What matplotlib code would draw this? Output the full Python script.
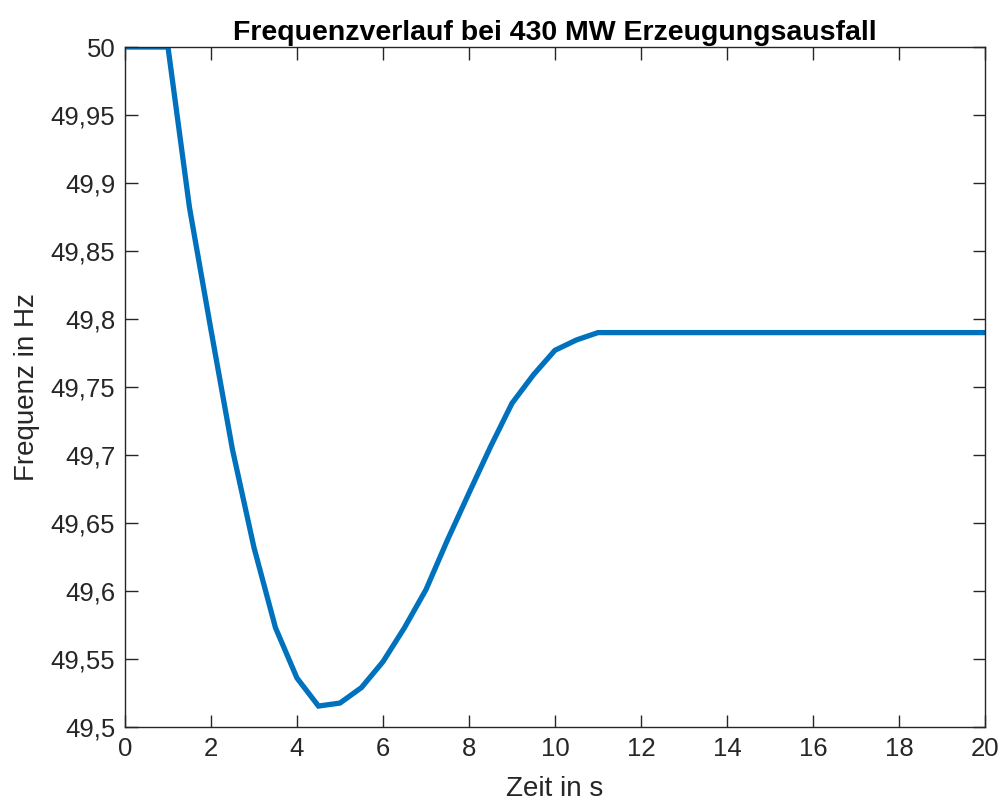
import matplotlib
matplotlib.use("Agg")
import matplotlib.pyplot as plt
from matplotlib.ticker import FuncFormatter

# time in s, frequency in Hz
zeit = [0, 0.5, 1, 1.5, 2, 2.5, 3, 3.5, 4, 4.5, 5, 5.5, 6, 6.5, 7, 7.5, 8,
        8.5, 9, 9.5, 10, 10.5, 11, 20]
frequenz = [50, 50, 50, 49.882, 49.792, 49.704, 49.632, 49.573, 49.536,
            49.5154, 49.5176, 49.529, 49.548, 49.573, 49.601, 49.6375,
            49.672, 49.706, 49.738, 49.759, 49.777, 49.7846, 49.79, 49.79]

plt.rcParams['font.family'] = ['Liberation Sans', 'DejaVu Sans']

fig = plt.figure(figsize=(10.03, 8.05), dpi=100)
ax = fig.add_axes([0.1246, 0.0969, 0.8574, 0.8447])

ax.plot(zeit, frequenz, color='#0072BD', linewidth=3.8, solid_joinstyle='miter')

ax.set_xlim(0, 20)
ax.set_ylim(49.5, 50)
ax.set_xticks(range(0, 21, 2))
ax.set_yticks([49.5 + 0.05 * i for i in range(11)])

def komma(v, pos):
    s = ('%.2f' % v).rstrip('0').rstrip('.')
    return s.replace('.', ',')

ax.yaxis.set_major_formatter(FuncFormatter(komma))

for sp in ax.spines.values():
    sp.set_color('#262626')
    sp.set_linewidth(1.0)
ax.tick_params(direction='in', length=9, width=1.0, colors='#262626',
               labelsize=18.5, top=True, right=True, pad=7)
for lbl in ax.get_xticklabels() + ax.get_yticklabels():
    lbl.set_color('#262626')

ax.set_xlabel('Zeit in s', fontsize=20, color='#262626', labelpad=11)
ax.set_ylabel('Frequenz in Hz', fontsize=20, color='#262626', labelpad=8)
ax.set_title('Frequenzverlauf bei 430 MW Erzeugungsausfall', fontsize=20.5,
             fontweight='bold', pad=5)

fig.savefig('out.png', dpi=100)
